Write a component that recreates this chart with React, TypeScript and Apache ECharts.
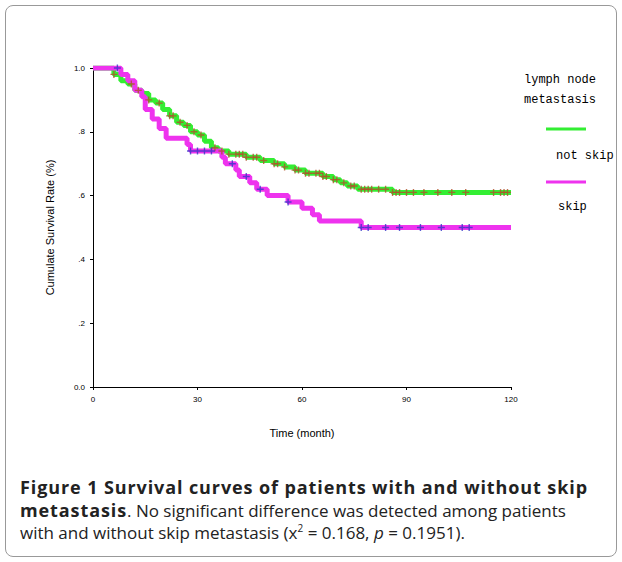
import * as echarts from "echarts"
import { useEffect, useRef } from "react"

// Kaplan-Meier steps: [month, survival]
const notSkip: [number, number][] = [
  [0, 1.0], [6, 0.98], [8, 0.96], [10, 0.95], [12, 0.93], [14, 0.92], [16, 0.9], [18, 0.89],
  [20, 0.87], [22, 0.85], [24, 0.83], [26, 0.82], [28, 0.8], [30, 0.79], [32, 0.77],
  [34, 0.75], [36, 0.74], [39, 0.73], [44, 0.72], [48, 0.71], [52, 0.7], [55, 0.69],
  [58, 0.68], [61, 0.67], [66, 0.66], [69, 0.65], [71, 0.64], [73, 0.63], [76, 0.62],
  [86, 0.61], [120, 0.61],
]
const skip: [number, number][] = [
  [0, 1.0], [8, 0.98], [10, 0.96], [12, 0.93], [14, 0.91], [15, 0.87], [17, 0.84],
  [19, 0.81], [21, 0.78], [27, 0.76], [28, 0.74], [36, 0.74], [37, 0.72], [38, 0.7],
  [41, 0.68], [42, 0.66], [45, 0.64], [47, 0.62], [50, 0.6], [56, 0.58], [60, 0.56],
  [63, 0.54], [65, 0.52], [77, 0.5], [120, 0.5],
]
const notSkipCensor = [6, 11, 13, 16, 19, 22, 23, 25, 27, 29, 31, 35, 37, 39, 41, 42, 43, 44, 46, 47, 49, 52, 53,
  55, 58, 59, 61, 62, 64, 65, 66, 67, 69, 70, 72, 74, 75, 77, 78, 79, 80, 82, 84, 86, 87, 88, 90, 92, 95, 99,
  103, 107, 115, 117, 118, 119]
const skipCensor = [7, 28, 30, 32, 34, 40, 44, 48, 56, 77, 79, 84, 88, 94, 100, 106, 108]
const yTicks: Record<string, string> = { "0": "0.0", "0.2": ".2", "0.4": ".4", "0.6": ".6", "0.8": ".8", "1": "1.0" }

const survAt = (curve: [number, number][], t: number) => {
  let s = curve[0][1]
  for (const [m, v] of curve) if (m <= t) s = v
  return s
}

const plus = "path://M4,0L6,0L6,4L10,4L10,6L6,6L6,10L4,10L4,6L0,6L0,4L4,4Z"

export default function App() {
  const ref = useRef<HTMLDivElement>(null)

  useEffect(() => {
    if (!ref.current) return
    const chart = echarts.init(ref.current, null, { renderer: "svg" })
    const legendFont = "12px 'Liberation Mono', 'DejaVu Sans Mono', monospace"
    chart.setOption({
      animation: false,
      grid: { left: 87, top: 62, width: 418, height: 319 },
      xAxis: {
        type: "value", min: 0, max: 120, interval: 30,
        name: "Time (month)", nameLocation: "middle", nameGap: 40,
        nameTextStyle: { fontSize: 11, color: "#000", fontFamily: "Liberation Sans" },
        axisLine: { lineStyle: { color: "#000" } },
        axisTick: { lineStyle: { color: "#000" }, length: 3 },
        axisLabel: { fontSize: 8, color: "#000" },
        splitLine: { show: false },
      },
      yAxis: {
        type: "value", min: 0, max: 1, interval: 0.2,
        name: "Cumulate Survival Rate (%)", nameLocation: "middle", nameGap: 38,
        nameTextStyle: { fontSize: 11, color: "#000", fontFamily: "Liberation Sans" },
        axisLine: { show: true, lineStyle: { color: "#000" } },
        axisTick: { show: true, lineStyle: { color: "#000" }, length: 3 },
        axisLabel: { fontSize: 8, color: "#000", formatter: (v: number) => yTicks[String(v)] ?? "" },
        splitLine: { show: false },
      },
      series: [
        { type: "line", step: "end", data: notSkip, showSymbol: false, lineStyle: { color: "#33ee33", width: 5 } },
        { type: "line", step: "end", data: skip, showSymbol: false, lineStyle: { color: "#ee33ee", width: 5 } },
        {
          type: "scatter", symbol: plus, symbolSize: 7, itemStyle: { color: "#b0502a" }, z: 5,
          data: notSkipCensor.map(t => [t, survAt(notSkip, t)]),
        },
        {
          type: "scatter", symbol: plus, symbolSize: 7, itemStyle: { color: "#3535c8" }, z: 5,
          data: skipCensor.map(t => [t, survAt(skip, t)]),
        },
      ],
      graphic: [
        { type: "text", left: 518, top: 64, style: { text: "lymph node\nmetastasis", font: legendFont, fill: "#000", lineHeight: 20 } },
        { type: "line", shape: { x1: 540, y1: 123, x2: 580, y2: 123 }, style: { stroke: "#33ee33", lineWidth: 3 } },
        { type: "text", left: 550, top: 144, style: { text: "not skip", font: legendFont, fill: "#000" } },
        { type: "line", shape: { x1: 540, y1: 176, x2: 580, y2: 176 }, style: { stroke: "#ee33ee", lineWidth: 3 } },
        { type: "text", left: 552, top: 195, style: { text: "skip", font: legendFont, fill: "#000" } },
      ],
    })
    return () => chart.dispose()
  }, [])

  return (
    <div style={{ position: "fixed", left: 5, top: 5, width: 610, height: 550, border: "1px solid #999", borderRadius: 8, background: "#fff", overflow: "hidden" }}>
      <div ref={ref} style={{ width: 610, height: 440 }} />
      <div style={{ position: "absolute", left: 14, top: 470, right: 10, fontFamily: "'Open Sans', 'Noto Sans', sans-serif", fontSize: 17, lineHeight: "22px", color: "#222", whiteSpace: "nowrap" }}>
        <b style={{ fontSize: 18, letterSpacing: 0.9 }}>Figure 1 Survival curves of patients with and without skip</b><br />
        <b style={{ fontSize: 18, letterSpacing: 0.9 }}>metastasis</b>. No significant difference was detected among patients<br />
        with and without skip metastasis (x<sup style={{ fontSize: 10, lineHeight: 0 }}>2</sup> = 0.168, <i>p</i> = 0.1951).
      </div>
    </div>
  )
}
